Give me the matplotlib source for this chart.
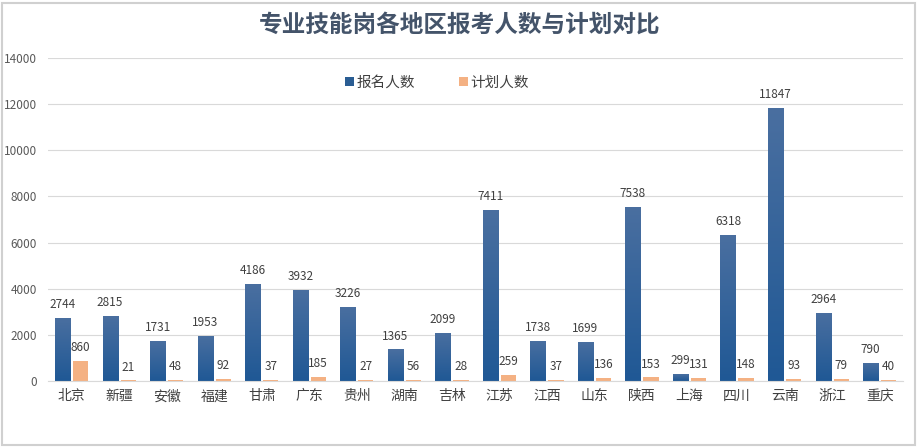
import matplotlib
matplotlib.use("Agg")
import matplotlib.pyplot as plt
import numpy as np
from matplotlib.colors import LinearSegmentedColormap
from matplotlib.patches import Rectangle, Patch

plt.rcParams['font.family'] = ['Noto Sans CJK SC', 'DejaVu Sans']

regions = ['北京', '新疆', '安徽', '福建', '甘肃', '广东', '贵州', '湖南', '吉林',
           '江苏', '江西', '山东', '陕西', '上海', '四川', '云南', '浙江', '重庆']
applicants = [2744, 2815, 1731, 1953, 4186, 3932, 3226, 1365, 2099,
              7411, 1738, 1699, 7538, 299, 6318, 11847, 2964, 790]
planned = [860, 21, 48, 92, 37, 185, 27, 56, 28,
           259, 37, 136, 153, 131, 148, 93, 79, 40]
yticks = [0, 2000, 4000, 6000, 8000, 10000, 12000, 14000]

title = '专业技能岗各地区报考人数与计划对比'
series_names = ['报名人数', '计划人数']

blue = '#2a5d93'
orange = '#f4b183'

fig = plt.figure(figsize=(9.2, 4.47), dpi=100)
fig.patch.set_facecolor('white')
ax = fig.add_axes([0.052, 0.1477, 0.930, 0.7226])

x = np.arange(len(regions))
w = 0.32
off = 0.19
bars1 = ax.bar(x - off, applicants, w, color=blue, label=series_names[0], zorder=2)
bars2 = ax.bar(x + off, planned, w, color=orange, label=series_names[1], zorder=2)

# gradient for blue bars
cmap = LinearSegmentedColormap.from_list('g', ['#1f5895', '#4a6fa0'])
grad = np.linspace(0, 1, 256).reshape(-1, 1)
for b in bars1:
    bx, by = b.get_x(), b.get_y()
    bw, bh = b.get_width(), b.get_height()
    im = ax.imshow(grad, cmap=cmap, aspect='auto', origin='lower',
                   extent=[bx, bx + bw, by, by + bh], zorder=2.5)
    im.set_clip_path(b)
    b.set_facecolor('none')

for b, v in zip(bars1, applicants):
    ax.annotate(str(v), (b.get_x() + b.get_width() / 2, v), xytext=(0, 5),
                textcoords='offset points', ha='center', va='bottom',
                fontsize=8.5, color='#404040', zorder=4)
for b, v in zip(bars2, planned):
    ax.annotate(str(v), (b.get_x() + b.get_width() / 2, v), xytext=(0, 5),
                textcoords='offset points', ha='center', va='bottom',
                fontsize=8.5, color='#404040', zorder=4)

ax.set_xlim(-0.5, len(regions) - 0.5)
ax.set_ylim(0, 14000)
ax.set_yticks(yticks)
ax.set_yticklabels([str(t) for t in yticks], fontsize=8.5, color='#595959')
ax.set_xticks(x)
ax.set_xticklabels(regions, fontsize=10, color='#404040')
ax.tick_params(axis='both', length=0)
ax.tick_params(axis='x', pad=6)
ax.tick_params(axis='y', pad=8)
ax.grid(axis='y', color='#d9d9d9', linewidth=0.8, zorder=0)
for s in ['top', 'right', 'left']:
    ax.spines[s].set_visible(False)
ax.spines['bottom'].set_color('#d9d9d9')
ax.set_facecolor('none')

handles = [Patch(facecolor='#2a5d93'), Patch(facecolor=orange)]
leg = ax.legend(handles, series_names, loc='upper center', bbox_to_anchor=(0.455, 0.985),
                ncol=2, frameon=False, fontsize=10.5, handlelength=0.6, handleheight=0.6,
                handletextpad=0.2, columnspacing=3.0, labelcolor='#404040')

fig.text(0.5, 0.945, title, ha='center', va='center', fontsize=17,
         color='#44546a', fontweight='bold')

fig.patches.append(Rectangle((0.002, 0.004), 0.993, 0.99, transform=fig.transFigure,
                             fill=False, edgecolor='#d0d0d0', linewidth=1.5))

fig.savefig('out.png', dpi=100)
